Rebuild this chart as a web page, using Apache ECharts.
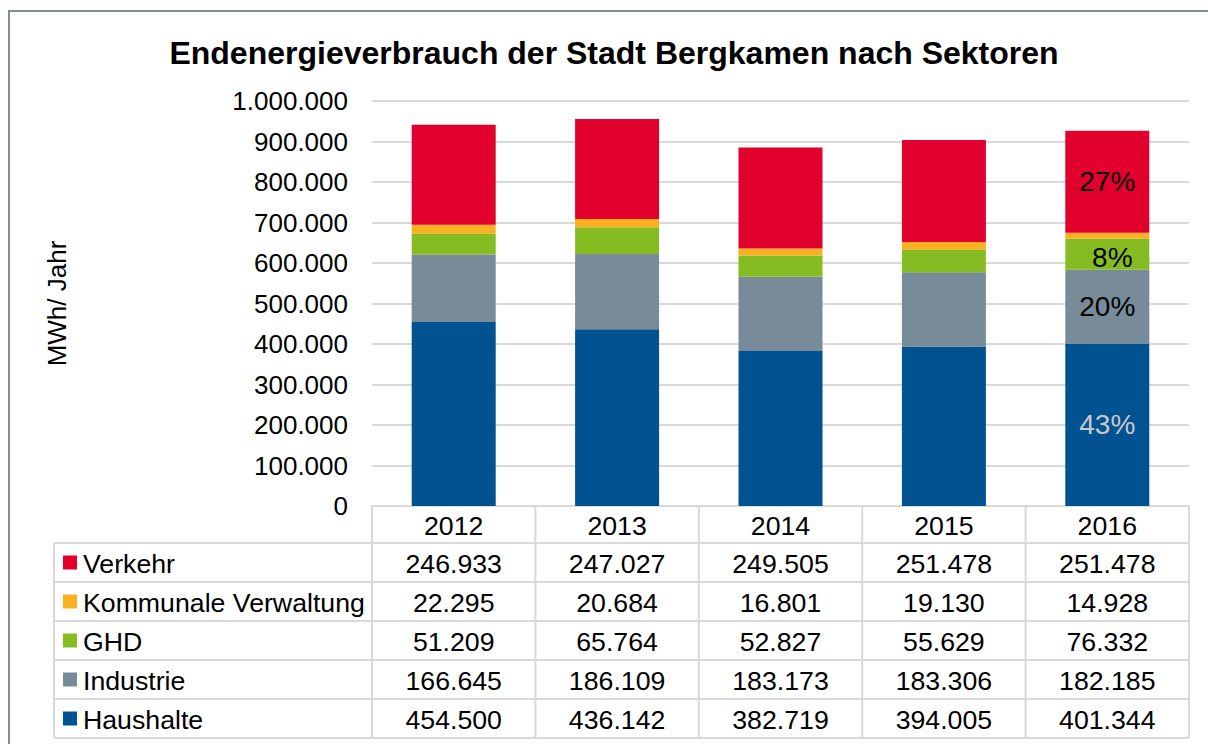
<!DOCTYPE html>
<html>
<head>
<meta charset="utf-8">
<script src="https://cdn.jsdelivr.net/npm/echarts@6/dist/echarts.min.js"></script>
<style>
html,body{margin:0;padding:0;background:#ffffff;}
#chart{width:1208px;height:744px;}
</style>
</head>
<body>
<div id="chart"></div>
<script>
// ---- data ----
const years = ['2012', '2013', '2014', '2015', '2016'];
const seriesNames = ['Haushalte', 'Industrie', 'GHD', 'Kommunale Verwaltung', 'Verkehr'];
const haushalte = [454500, 436142, 382719, 394005, 401344];
const industrie = [166645, 186109, 183173, 183306, 182185];
const ghd = [51209, 65764, 52827, 55629, 76332];
const kommunal = [22295, 20684, 16801, 19130, 14928];
const verkehr = [246933, 247027, 249505, 251478, 251478];
const shares2016 = [43, 20, 8, null, 27]; // percent labels shown in the 2016 bar
const yMin = 0, yMax = 1000000, yStep = 100000;

// ---- styling ----
const values = [haushalte, industrie, ghd, kommunal, verkehr];
const colors = ['#005291', '#778C98', '#85BC22', '#F9B121', '#E2002E'];
const labelColors = ['#c8c8c8', '#000000', '#000000', '#000000', '#000000'];
const FONT = '"Liberation Sans", Arial, sans-serif';
const FS = 26;
const TFS = 26.7;
const lineColor = '#d9d9d9';

function fmt(n) {
  return String(n).replace(/\B(?=(\d{3})+(?!\d))/g, '.');
}

const gridLeft = 372, gridRight = 19, gridTop = 101, gridBottom = 238;

const series = seriesNames.map(function (name, s) {
  return {
    name: name,
    type: 'bar',
    stack: 'total',
    barWidth: 84,
    itemStyle: { color: colors[s] },
    emphasis: { disabled: true },
    data: values[s].map(function (v, i) {
      const item = { value: v };
      if (i === years.length - 1 && shares2016[s] != null) {
        item.label = {
          show: true,
          position: 'inside',
          formatter: shares2016[s] + '%',
          color: labelColors[s],
          fontSize: 28,
          fontFamily: FONT,
          offset: s === 2 ? [5, 3] : [0, 0]
        };
      }
      return item;
    })
  };
});

const option = {
  animation: false,
  backgroundColor: '#ffffff',
  title: {
    text: 'Endenergieverbrauch der Stadt Bergkamen nach Sektoren',
    left: 609,
    top: 32,
    textAlign: 'center',
    textStyle: { fontFamily: FONT, fontSize: 32, fontWeight: 'bold', color: '#000000' }
  },
  grid: { left: gridLeft, right: gridRight, top: gridTop, bottom: gridBottom, containLabel: false },
  xAxis: {
    type: 'category',
    data: years,
    axisLine: { show: true, lineStyle: { color: lineColor, width: 2 } },
    axisTick: { show: false },
    axisLabel: { fontFamily: FONT, fontSize: TFS, color: '#000000', margin: 6 }
  },
  yAxis: {
    type: 'value',
    min: yMin,
    max: yMax,
    interval: yStep,
    name: 'MWh/ Jahr',
    nameLocation: 'middle',
    nameRotate: 90,
    nameGap: 302,
    nameTextStyle: { fontFamily: FONT, fontSize: FS, color: '#000000' },
    axisLine: { show: false },
    axisTick: { show: false },
    splitLine: { lineStyle: { color: lineColor, width: 2 } },
    axisLabel: {
      fontFamily: FONT, fontSize: FS, color: '#000000', margin: 24,
      formatter: function (v) { return fmt(v); }
    }
  },
  series: series
};

const chart = echarts.init(document.getElementById('chart'), null, { renderer: 'svg' });
chart.setOption(option);

// ---- data table under the chart ----
const plotW = 1208 - gridLeft - gridRight;
const band = plotW / years.length;
const axisY = chart.convertToPixel({ yAxisIndex: 0 }, 0);
const headerH = 37, rowH = 39;
const tableLeft = 54;
const rowsTop = axisY + headerH;
const rowOrder = [4, 3, 2, 1, 0];
const tableBottom = rowsTop + rowH * rowOrder.length;
const right = gridLeft + plotW;
const g = [];

function hline(x1, x2, y) {
  g.push({ type: 'line', silent: true, shape: { x1: x1, y1: y, x2: x2, y2: y },
    style: { stroke: lineColor, lineWidth: 2 } });
}
function vline(x, y1, y2) {
  g.push({ type: 'line', silent: true, shape: { x1: x, y1: y1, x2: x, y2: y2 },
    style: { stroke: lineColor, lineWidth: 2 } });
}
// outer frame of the picture
g.push({ type: 'rect', silent: true, shape: { x: 9, y: 11, width: 1400, height: 900 },
  style: { fill: 'none', stroke: '#7b8d99', lineWidth: 2 } });

for (let r = 0; r <= rowOrder.length; r++) hline(tableLeft, right, rowsTop + r * rowH);
vline(tableLeft, rowsTop, tableBottom);
for (let i = 0; i <= years.length; i++) vline(gridLeft + i * band, axisY, tableBottom);

rowOrder.forEach(function (s, r) {
  const cy = rowsTop + r * rowH + rowH / 2;
  g.push({ type: 'rect', silent: true, shape: { x: 63, y: cy - 7, width: 14, height: 14 },
    style: { fill: colors[s] } });
  g.push({ type: 'text', silent: true,
    style: { text: seriesNames[s], x: 83, y: cy + 1, fill: '#000000',
      fontSize: TFS, fontFamily: FONT, align: 'left', verticalAlign: 'middle' } });
  years.forEach(function (yr, i) {
    const cx = chart.convertToPixel({ xAxisIndex: 0 }, yr);
    g.push({ type: 'text', silent: true,
      style: { text: fmt(values[s][i]), x: cx, y: cy + 1, fill: '#000000',
        fontSize: TFS, fontFamily: FONT, align: 'center', verticalAlign: 'middle' } });
  });
});

chart.setOption({ graphic: { elements: g } });
</script>
</body>
</html>
